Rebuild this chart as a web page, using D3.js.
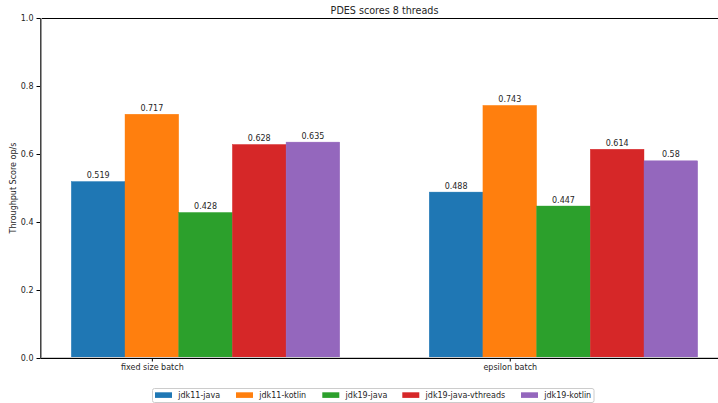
<!DOCTYPE html>
<html><head><meta charset="utf-8">
<script src="https://cdn.jsdelivr.net/npm/d3@7"></script>
<style>body{margin:0;background:#fff}svg{display:block}text{font-family:"DejaVu Sans",sans-serif;fill:#262626}</style>
</head><body><svg id="c" width="718" height="403"></svg>
<script>
const categories = ["fixed size batch", "epsilon batch"];
const seriesNames = ["jdk11-java", "jdk11-kotlin", "jdk19-java", "jdk19-java-vthreads", "jdk19-kotlin"];
const seriesColors = ["#1f77b4", "#ff7f0e", "#2ca02c", "#d62728", "#9467bd"];
const jdk11Java = [0.519, 0.488];
const jdk11Kotlin = [0.717, 0.743];
const jdk19Java = [0.428, 0.447];
const jdk19JavaVthreads = [0.628, 0.614];
const jdk19Kotlin = [0.635, 0.58];
const yTicks = [0.0, 0.2, 0.4, 0.6, 0.8, 1.0];
const series = [jdk11Java, jdk11Kotlin, jdk19Java, jdk19JavaVthreads, jdk19Kotlin];

const svg = d3.select("#c");
const barW = 0.15;
const L = 40, R = 729, T = 18, B = 358;
const xmin = -barW / 2, xmax = (categories.length - 1) + (series.length - 1) * barW + barW / 2;
const pad = (xmax - xmin) * 0.05;
const x = d3.scaleLinear().domain([xmin - pad, xmax + pad]).range([L, R]);
const y = d3.scaleLinear().domain([0, 1]).range([B, T]);

// bars
series.forEach((vals, si) => {
  const g = svg.append("g");
  vals.forEach((v, ci) => {
    const cx = ci + si * barW;
    const x0 = x(cx - barW / 2), x1 = x(cx + barW / 2);
    g.append("rect").attr("x", x0).attr("y", y(v)).attr("width", x1 - x0).attr("height", y(0) - y(v))
      .attr("fill", seriesColors[si]).attr("stroke", seriesColors[si]).attr("stroke-width", 0.4);
    g.append("text").attr("x", (x0 + x1) / 2).attr("y", y(v) - 3.5).attr("text-anchor", "middle")
      .attr("font-size", 8).text(String(v));
  });
});

// spines
svg.append("line").attr("x1", L).attr("x2", 718).attr("y1", T + 0.5).attr("y2", T + 0.5).attr("stroke", "#000").attr("stroke-width", 1.2);
svg.append("line").attr("x1", L).attr("x2", 718).attr("y1", B - 0.5).attr("y2", B - 0.5).attr("stroke", "#ccc").attr("stroke-width", 1);
svg.append("line").attr("x1", L).attr("x2", 718).attr("y1", B + 0.5).attr("y2", B + 0.5).attr("stroke", "#000").attr("stroke-width", 1.2);
svg.append("line").attr("x1", L + 1.5).attr("x2", L + 1.5).attr("y1", T).attr("y2", B).attr("stroke", "#999").attr("stroke-width", 1);
svg.append("line").attr("x1", L + 0.5).attr("x2", L + 0.5).attr("y1", T).attr("y2", B + 1).attr("stroke", "#444").attr("stroke-width", 1);

// y axis
const ya = svg.append("g").attr("transform", `translate(${L},0)`)
  .call(d3.axisLeft(y).tickValues(yTicks).tickFormat(d3.format(".1f")).tickSize(3.5).tickPadding(3));
ya.select(".domain").remove();
ya.selectAll("text").attr("font-size", 8).attr("font-family", "DejaVu Sans").attr("fill", "#262626");
ya.selectAll("line").attr("stroke", "#000");

// x axis
const xa = svg.append("g").attr("transform", `translate(0,${B})`)
  .call(d3.axisBottom(x).tickValues(categories.map((c, i) => i + barW)).tickFormat((d, i) => categories[i]).tickSize(3.5).tickPadding(2.5));
xa.select(".domain").remove();
xa.selectAll("text").attr("font-size", 8).attr("font-family", "DejaVu Sans").attr("fill", "#262626");
xa.selectAll("line").attr("stroke", "#000");

// title
svg.append("text").attr("x", (L + R) / 2).attr("y", 13.5).attr("text-anchor", "middle").attr("font-size", 9.6).text("PDES scores 8 threads");
// y label
svg.append("text").attr("transform", `translate(16,${(T + B) / 2}) rotate(-90)`).attr("text-anchor", "middle").attr("font-size", 8).text("Throughput Score op/s");

// legend
const lg = svg.append("g");
lg.append("rect").attr("x", 152.5).attr("y", 388.5).attr("width", 441.5).attr("height", 14).attr("rx", 2)
  .attr("fill", "#fff").attr("stroke", "#ccc").attr("stroke-width", 1);
const itemX = [155, 236, 322.3, 402.3, 521];
seriesNames.forEach((n, i) => {
  lg.append("rect").attr("x", itemX[i]).attr("y", 392.3).attr("width", 17).attr("height", 5.6).attr("fill", seriesColors[i]);
  lg.append("text").attr("x", itemX[i] + 23.3).attr("y", 398).attr("font-size", 8).text(n);
});
</script></body></html>
